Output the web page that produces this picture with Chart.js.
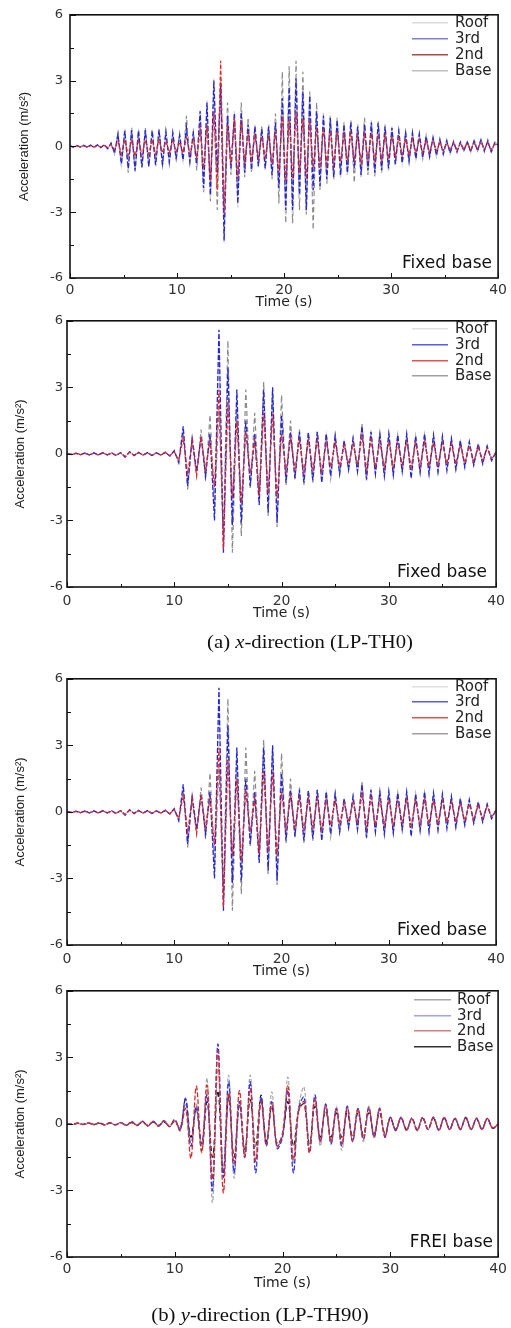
<!DOCTYPE html>
<html><head><meta charset="utf-8">
<script src="https://cdn.jsdelivr.net/npm/chart.js@4.4.0/dist/chart.umd.min.js"></script>
<style>
html,body{margin:0;padding:0;background:#fff;}
body{width:511px;height:1328px;overflow:hidden;position:relative;}
canvas{position:absolute;left:0;}
.cap{position:absolute;font-family:"Liberation Serif","Times New Roman",serif;font-size:18px;color:#111;white-space:nowrap;transform:translate(-50%,-50%) scaleX(1.15);}
</style></head>
<body>
<canvas id="c1" width="511" height="318" style="top:0px"></canvas>
<canvas id="c2" width="511" height="318" style="top:309px"></canvas>
<div class="cap" style="left:310px;top:642px">(a) <i>x</i>-direction (LP-TH0)</div>
<canvas id="c3" width="511" height="318" style="top:667px"></canvas>
<canvas id="c4" width="511" height="318" style="top:979px"></canvas>
<div class="cap" style="left:260px;top:1315px">(b) <i>y</i>-direction (LP-TH90)</div>
<script>
// ---------- DATA ----------
const seriesNames = ['Roof', '3rd', '2nd', 'Base'];
const yTickValues = [-6, -3, 0, 3, 6];
const yMinorValues = [-4.5, -1.5, 1.5, 4.5];
const xTickValues = [0, 10, 20, 30, 40];
const xMinorValues = [5, 15, 25, 35];

// Panel 1 (x-direction, fixed base) — sampled every 0.32 s
const p1Step = 0.32;
const p1Roof = [
 0.02,-0.03,0.03,-0.03,0.05,-0.04,0.05,-0.05,0.06,-0.06,
 0.07,-0.1,0.12,-0.3,0.6,-0.85,0.75,-1.05,0.8,-1.1,
 0.75,-1.0,0.8,-0.95,0.75,-0.9,0.8,-0.85,0.7,-0.75,
 0.65,-0.6,0.55,-0.65,0.9,-0.75,0.65,-0.9,1.7,-2.0,
 2.1,-2.4,3.1,-1.4,3.2,-4.4,1.6,-1.2,1.6,-2.8,
 1.7,-1.3,1.1,-1.1,1.0,-1.0,0.85,-1.1,1.0,-1.4,
 1.2,-2.0,2.4,-3.1,2.9,-3.1,3.3,-2.4,2.6,-3.0,
 2.4,-2.1,1.7,-1.9,1.5,-1.6,1.4,-1.5,1.3,-1.4,
 1.1,-1.3,1.2,-1.1,1.0,-1.4,1.1,-1.2,1.2,-1.3,
 1.1,-1.2,1.0,-1.1,0.9,-0.85,0.75,-0.8,0.65,-0.75,
 0.65,-0.6,0.6,-0.55,0.5,-0.5,0.45,-0.45,0.35,-0.4,
 0.3,-0.35,0.25,-0.3,0.22,-0.22,0.22,-0.28,0.28,-0.22,
 0.32,-0.22,0.28,-0.28,0.18,0.05];
const p1Third = [
 0.02,-0.03,0.04,-0.03,0.05,-0.04,0.06,-0.05,0.07,-0.06,
 0.08,-0.1,0.15,-0.3,0.55,-0.8,0.7,-1.0,0.75,-1.1,
 0.7,-0.95,0.75,-0.9,0.7,-0.85,0.75,-0.8,0.65,-0.7,
 0.6,-0.55,0.5,-0.6,0.85,-0.7,0.6,-0.8,1.6,-1.9,
 2.0,-2.2,3.0,-1.2,2.9,-4.3,1.4,-1.0,1.5,-2.6,
 1.55,-1.2,1.0,-1.06,0.9,-0.9,0.8,-1.0,0.9,-1.3,
 1.1,-1.9,2.2,-2.9,2.7,-2.9,3.1,-2.2,2.5,-2.9,
 2.3,-2.0,1.6,-1.8,1.4,-1.5,1.3,-1.4,1.2,-1.3,
 1.0,-1.2,1.1,-1.0,0.9,-1.3,1.0,-1.1,1.1,-1.2,
 1.05,-1.1,0.9,-1.0,0.85,-0.8,0.7,-0.75,0.6,-0.7,
 0.6,-0.55,0.55,-0.5,0.45,-0.45,0.4,-0.4,0.3,-0.35,
 0.25,-0.3,0.2,-0.25,0.2,-0.2,0.2,-0.25,0.25,-0.2,
 0.3,-0.2,0.25,-0.25,0.15,0.05];
const p1Second = [
 0.01,-0.02,0.02,-0.02,0.03,-0.02,0.03,-0.03,0.04,-0.03,
 0.04,-0.05,0.08,-0.15,0.25,-0.35,0.3,-0.4,0.3,-0.45,
 0.3,-0.4,0.3,-0.35,0.3,-0.35,0.3,-0.3,0.25,-0.3,
 0.25,-0.25,0.2,-0.3,0.4,-0.35,0.3,-0.5,0.8,-1.0,
 1.0,-1.6,1.6,-2.0,3.9,-3.1,1.0,-0.8,1.3,-1.5,
 1.2,-0.7,0.6,-0.6,0.5,-0.5,0.45,-0.5,0.5,-0.8,
 0.7,-1.2,1.4,-1.6,1.2,-1.5,1.6,-1.2,1.3,-1.5,
 1.2,-1.0,0.9,-1.0,0.8,-0.8,0.7,-0.8,0.7,-0.7,
 0.55,-0.65,0.6,-0.6,0.5,-0.7,0.55,-0.6,0.6,-0.65,
 0.55,-0.6,0.5,-0.55,0.45,-0.45,0.4,-0.4,0.35,-0.4,
 0.35,-0.3,0.3,-0.3,0.25,-0.25,0.25,-0.2,0.2,-0.2,
 0.15,-0.15,0.15,-0.15,0.12,-0.12,0.15,-0.15,0.15,-0.12,
 0.2,-0.12,0.15,-0.15,0.1,0.03];
const p1Base = [
 0.02,-0.02,0.03,-0.03,0.04,-0.03,0.05,-0.04,0.06,-0.05,
 0.07,-0.1,0.1,-0.35,0.6,-0.9,0.8,-1.2,0.85,-1.15,
 0.8,-1.0,0.85,-0.95,0.8,-0.9,0.8,-0.9,0.7,-0.8,
 0.65,-0.6,0.6,-0.7,1.4,-0.8,0.7,-1.1,1.2,-2.1,
 1.6,-2.5,2.4,-2.9,3.0,-3.3,2.0,-1.3,1.2,-2.2,
 2.0,-1.4,1.3,-1.2,1.0,-0.8,0.9,-1.0,1.0,-1.5,
 1.5,-2.6,3.4,-3.5,3.65,-3.5,3.9,-2.9,3.4,-3.1,
 2.5,-3.8,2.0,-2.0,1.5,-1.7,1.4,-1.5,1.3,-1.4,
 1.1,-1.3,1.2,-1.66,1.0,-1.4,1.3,-1.3,1.1,-1.4,
 1.2,-1.2,1.0,-1.1,0.9,-0.9,0.8,-0.8,0.7,-0.7,
 0.65,-0.6,0.6,-0.55,0.5,-0.5,0.45,-0.45,0.35,-0.35,
 0.3,-0.3,0.25,-0.25,0.2,-0.2,0.25,-0.25,0.3,-0.2,
 0.35,-0.25,0.3,-0.3,0.2,0.05];

// Panel 2 and 3 (same record, fixed base) — sampled every 40/96 s
const p2Step = 40 / 96;
const p2Roof = [
 0.02,-0.02,0.03,-0.03,0.03,-0.04,0.04,-0.05,0.05,-0.04,0.04,-0.07,
 0.05,-0.13,0.09,-0.07,0.06,-0.05,0.05,-0.06,0.05,-0.05,0.07,-0.09,
 0.13,-0.35,1.1,-1.3,0.65,-0.75,0.75,-0.9,1.0,-2.7,5.0,-4.0,
 4.2,-3.0,2.6,-2.8,1.4,-1.3,0.9,-2.1,2.6,-2.4,2.7,-2.8,
 1.6,-1.2,0.95,-1.0,0.95,-1.2,0.9,-1.1,0.95,-1.2,0.85,-0.95,
 0.75,-0.85,0.55,-0.65,0.65,-0.75,1.1,-1.05,0.95,-0.85,0.85,-0.95,
 0.85,-0.9,0.8,-0.75,0.85,-0.95,0.75,-0.8,0.85,-0.85,0.8,-0.75,
 0.75,-0.7,0.65,-0.65,0.55,-0.55,0.5,-0.45,0.42,-0.42,0.32,-0.28,
 0.08];
const p2Third = [
 0.02,-0.03,0.03,-0.04,0.04,-0.05,0.05,-0.06,0.06,-0.05,0.05,-0.08,
 0.06,-0.15,0.1,-0.08,0.07,-0.06,0.06,-0.07,0.05,-0.06,0.08,-0.1,
 0.15,-0.4,1.24,-1.45,0.7,-0.8,0.8,-1.0,0.9,-3.0,5.6,-4.45,
 3.9,-3.2,2.9,-3.1,1.5,-1.45,0.9,-2.3,2.9,-2.65,3.0,-3.1,
 1.75,-1.3,1.0,-1.1,1.0,-1.3,0.95,-1.2,1.0,-1.3,0.9,-1.0,
 0.8,-0.9,0.6,-0.7,0.7,-0.8,1.24,-1.15,1.0,-0.9,0.9,-1.0,
 0.9,-0.95,0.85,-0.8,0.9,-1.1,0.8,-0.85,0.9,-0.9,0.85,-0.8,
 0.8,-0.75,0.7,-0.7,0.6,-0.6,0.55,-0.5,0.45,-0.45,0.35,-0.3,
 0.1];
const p2Second = [
 0.01,-0.02,0.02,-0.03,0.03,-0.04,0.03,-0.04,0.04,-0.04,0.04,-0.06,
 0.05,-0.12,0.08,-0.06,0.05,-0.05,0.05,-0.06,0.04,-0.05,0.06,-0.08,
 0.1,-0.3,0.7,-0.9,0.6,-1.0,0.8,-0.7,0.6,-1.5,2.9,-4.3,
 2.4,-2.0,1.5,-2.2,1.0,-0.9,0.6,-1.9,1.85,-1.8,1.8,-2.0,
 0.9,-0.8,0.7,-0.7,0.6,-0.8,0.6,-0.7,0.6,-0.8,0.55,-0.6,
 0.5,-0.55,0.4,-0.45,0.45,-0.5,0.8,-0.7,0.65,-0.6,0.55,-0.6,
 0.55,-0.6,0.5,-0.5,0.55,-0.6,0.5,-0.55,0.55,-0.55,0.5,-0.5,
 0.5,-0.45,0.45,-0.45,0.4,-0.4,0.35,-0.35,0.3,-0.3,0.25,-0.2,
 0.05];
const p2Base = [
 0.01,-0.01,0.02,-0.02,0.02,-0.03,0.03,-0.03,0.03,-0.03,0.03,-0.05,
 0.04,-0.1,0.06,-0.05,0.04,-0.04,0.04,-0.05,0.04,-0.05,0.06,-0.08,
 0.12,-0.35,1.0,-1.6,0.8,-0.9,1.1,-1.2,1.76,-2.4,2.0,-3.5,
 5.1,-4.45,2.2,-3.7,2.9,-1.6,1.85,-2.0,3.25,-2.8,2.9,-3.3,
 2.65,-1.4,1.5,-1.2,1.1,-1.4,1.0,-1.3,1.0,-1.2,0.9,-1.1,
 0.85,-0.9,0.6,-0.75,0.7,-0.8,1.4,-1.2,1.0,-0.9,0.95,-0.95,
 0.9,-0.9,0.85,-0.8,0.85,-0.95,0.8,-0.85,0.85,-0.85,0.8,-0.8,
 0.75,-0.7,0.65,-0.65,0.55,-0.55,0.5,-0.5,0.4,-0.4,0.35,-0.3,
 0.1];

// Panel 4 (y-direction, FREI base) — sampled every 0.5 s
const p4Step = 0.5;
const p4Roof = [
 0.02,-0.03,0.04,-0.04,0.05,-0.05,0.06,-0.05,0.06,-0.06,
 0.07,-0.08,0.11,-0.09,0.13,-0.11,0.13,-0.11,0.16,-0.13,
 0.15,-0.3,0.9,-1.0,0.9,-1.0,2.05,-3.55,2.5,-2.0,
 2.2,-2.45,1.0,-1.5,2.2,-1.6,1.2,-1.0,1.45,-1.0,
 -0.5,2.1,-1.8,0.8,1.65,-1.2,1.2,-1.0,0.9,-0.9,
 0.8,-1.2,0.8,-0.8,0.7,-0.8,0.8,-0.65,0.75,-0.6,
 0.32,-0.32,0.3,-0.3,0.28,-0.32,0.3,-0.28,0.32,-0.3,
 0.3,-0.28,0.28,-0.28,0.3,-0.28,0.28,-0.26,0.26,-0.22,
 0.0];
const p4Third = [
 0.02,-0.03,0.04,-0.03,0.05,-0.04,0.05,-0.05,0.06,-0.05,
 0.06,-0.07,0.1,-0.08,0.12,-0.1,0.12,-0.1,0.15,-0.12,
 0.2,-0.3,1.15,-1.0,0.8,-0.9,1.3,-3.0,3.6,-2.4,
 1.9,-2.2,1.0,-1.5,1.9,-2.2,1.2,-1.0,1.0,-1.1,
 -0.6,1.5,-2.2,0.7,1.2,-1.3,1.3,-0.8,0.9,-0.9,
 0.7,-1.0,0.8,-0.8,0.7,-0.7,0.75,-0.6,0.7,-0.6,
 0.3,-0.3,0.3,-0.3,0.25,-0.3,0.3,-0.25,0.3,-0.3,
 0.3,-0.25,0.25,-0.25,0.3,-0.25,0.25,-0.25,0.25,-0.2,
 0.0];
const p4Second = [
 0.01,-0.02,0.03,-0.02,0.04,-0.03,0.04,-0.04,0.05,-0.04,
 0.05,-0.06,0.08,-0.07,0.1,-0.08,0.1,-0.09,0.12,-0.1,
 0.15,-0.25,0.7,-1.55,1.7,-1.3,1.75,-2.5,3.3,-3.1,
 1.4,-1.8,1.5,-1.5,1.6,-1.7,1.0,-0.9,0.9,-1.0,
 -0.4,1.7,-1.6,0.6,1.0,-1.3,1.1,-0.8,0.8,-0.8,
 0.65,-0.9,0.7,-0.75,0.65,-0.65,0.7,-0.55,0.65,-0.55,
 0.28,-0.28,0.28,-0.28,0.25,-0.28,0.28,-0.25,0.28,-0.28,
 0.28,-0.25,0.25,-0.25,0.28,-0.25,0.25,-0.25,0.25,-0.2,
 0.0];
const p4Base = [
 0.01,-0.01,0.02,-0.02,0.02,-0.02,0.03,-0.03,0.03,-0.03,
 0.04,-0.05,0.06,-0.05,0.07,-0.06,0.08,-0.07,0.08,-0.08,
 0.1,-0.2,1.1,-0.6,0.7,-1.2,1.0,-1.5,1.5,-2.2,
 1.2,-1.5,0.9,-1.2,1.1,-1.0,1.3,-0.8,0.8,-0.9,
 -0.5,1.0,-1.0,0.6,0.9,-0.9,0.8,-0.6,0.6,-0.6,
 0.5,-0.6,0.5,-0.55,0.5,-0.5,0.5,-0.45,0.5,-0.45,
 0.25,-0.25,0.25,-0.25,0.22,-0.25,0.25,-0.22,0.25,-0.25,
 0.25,-0.22,0.22,-0.22,0.25,-0.22,0.22,-0.22,0.22,-0.18,
 0.0];

// ---------- DRAWING ----------
function pts(arr, step) { return arr.map((v, i) => ({ x: i * step, y: v })); }

const framePlugin = {
  id: 'frameAndLegend',
  afterDatasetsDraw(chart) {
    const o = chart.options.plugins.frameAndLegend;
    const { ctx, chartArea: a, scales } = chart;
    const x = scales.x, y = scales.y;
    ctx.save();
    ctx.strokeStyle = '#111';
    ctx.lineWidth = 1;
    ctx.beginPath();
    yTickValues.forEach(v => { const p = Math.round(y.getPixelForValue(v)) + 0.5; ctx.moveTo(a.left, p); ctx.lineTo(a.left + 6, p); });
    yMinorValues.forEach(v => { const p = Math.round(y.getPixelForValue(v)) + 0.5; ctx.moveTo(a.left, p); ctx.lineTo(a.left + 4, p); });
    xTickValues.forEach(v => { const p = Math.round(x.getPixelForValue(v)) + 0.5; ctx.moveTo(p, a.bottom); ctx.lineTo(p, a.bottom - 5); });
    xMinorValues.forEach(v => { const p = Math.round(x.getPixelForValue(v)) + 0.5; ctx.moveTo(p, a.bottom); ctx.lineTo(p, a.bottom - 3); });
    ctx.stroke();
    ctx.lineWidth = 1.6;
    ctx.strokeRect(a.left, a.top, a.right - a.left, a.bottom - a.top);
    // legend
    ctx.font = '15px "DejaVu Sans", sans-serif';
    ctx.textBaseline = 'middle';
    ctx.textAlign = 'left';
    seriesNames.forEach((n, i) => {
      const yy = a.top + o.rows[i];
      ctx.strokeStyle = o.legendColors[i];
      ctx.lineWidth = 1.5;
      ctx.beginPath(); ctx.moveTo(o.lx1, yy); ctx.lineTo(o.lx2, yy); ctx.stroke();
      ctx.fillStyle = '#222';
      ctx.fillText(n, o.tx, yy + 0.5);
    });
    // annotation
    ctx.font = '17px "DejaVu Sans", sans-serif';
    ctx.textAlign = 'right';
    ctx.fillStyle = '#111';
    ctx.fillText(o.label, o.labelRight, a.bottom - 14.5);
    ctx.restore();
  }
};

function makePanel(id, p) {
  const ds = p.series.map((arr, i) => ({
    label: seriesNames[i],
    data: pts(arr, p.step),
    borderColor: p.colors[i],
    borderWidth: p.widths[i],
    borderDash: p.dashes[i],
    pointRadius: 0,
    tension: p.tension,
    fill: false,
    order: p.orders[i]
  }));
  new Chart(document.getElementById(id), {
    type: 'line',
    data: { datasets: ds },
    plugins: [framePlugin],
    options: {
      responsive: false, animation: false, devicePixelRatio: 1,
      layout: { padding: { top: 11, right: p.padRight, left: 0, bottom: 0 } },
      plugins: {
        legend: { display: false }, tooltip: { enabled: false },
        frameAndLegend: p.deco
      },
      scales: {
        x: {
          type: 'linear', min: 0, max: 40,
          afterBuildTicks: s => { s.ticks = xTickValues.map(v => ({ value: v })); },
          ticks: { font: { family: 'DejaVu Sans', size: 14 }, color: '#333', padding: p.xTickPad, maxRotation: 0, autoSkip: false },
          grid: { display: false, drawTicks: false }, border: { display: false },
          title: { display: true, text: 'Time (s)', font: { family: 'DejaVu Sans', size: 14 }, color: '#222', padding: { top: 0, bottom: p.xTitlePad } },
          afterFit: s => { s.height = 40; }
        },
        y: {
          type: 'linear', min: -6, max: 6,
          afterBuildTicks: s => { s.ticks = yTickValues.map(v => ({ value: v })); },
          ticks: { font: { family: 'DejaVu Sans', size: 13 }, color: '#333', padding: p.yTickPad },
          grid: { display: false, drawTicks: false }, border: { display: false },
          title: { display: true, text: 'Acceleration (m/s²)', font: { family: 'Liberation Sans', size: 13 }, color: '#222', padding: { top: p.yTitlePad, bottom: 0 } },
          afterFit: s => { s.width = p.yWidth; }
        }
      }
    }
  });
}

const fixedColors = ['#cfcfcf', '#2626d6', '#e02828', '#8a8a8a'];
const fixedWidths = [1.2, 1.3, 1.2, 1.2];
const fixedDashes = [[3, 2], [5, 2], [4, 2], [5, 3]];
const orders = [3, 2, 1, 4];

makePanel('c1', {
  series: [p1Roof, p1Third, p1Second, p1Base], step: p1Step,
  colors: fixedColors, widths: fixedWidths, dashes: fixedDashes, orders, tension: 0,
  padRight: 10, yWidth: 70, yTickPad: 7, yTitlePad: 16.5, xTitlePad: 7, xTickPad: 4,
  deco: { rows: [8, 24, 40, 56], lx1: 412, lx2: 448, tx: 455, legendColors: ['#dcdcdc', '#7c7ce0', '#b04a4a', '#c0c0c0'], label: 'Fixed base', labelRight: 492 }
});
makePanel('c2', {
  series: [p2Roof, p2Third, p2Second, p2Base], step: p2Step,
  colors: fixedColors, widths: fixedWidths, dashes: fixedDashes, orders, tension: 0,
  padRight: 12, yWidth: 67, yTickPad: 4, yTitlePad: 13, xTitlePad: 5, xTickPad: 6,
  deco: { rows: [8, 24, 40, 55], lx1: 412, lx2: 448, tx: 455, legendColors: ['#e0e0e0', '#5a5aee', '#e85050', '#a0a0a0'], label: 'Fixed base', labelRight: 487 }
});
makePanel('c3', {
  series: [p2Roof, p2Third, p2Second, p2Base], step: p2Step,
  colors: fixedColors, widths: fixedWidths, dashes: fixedDashes, orders, tension: 0,
  padRight: 12, yWidth: 67, yTickPad: 4, yTitlePad: 13, xTitlePad: 5, xTickPad: 6,
  deco: { rows: [8, 23, 39, 55], lx1: 412, lx2: 448, tx: 455, legendColors: ['#e0e0e0', '#5a5aee', '#e85050', '#a0a0a0'], label: 'Fixed base', labelRight: 487 }
});
makePanel('c4', {
  series: [p4Roof, p4Third, p4Second, p4Base], step: p4Step,
  colors: ['#a8a8a8', '#3434e0', '#d82c2c', '#1a1a1a'], widths: [1.2, 1.3, 1.3, 1.2],
  dashes: [[4, 2], [5, 2], [5, 2], [5, 3]], orders, tension: 0.35,
  padRight: 12, yWidth: 67, yTickPad: 4, yTitlePad: 13, xTitlePad: 5, xTickPad: 4,
  deco: { rows: [9, 25, 40, 56], lx1: 414, lx2: 451, tx: 457, legendColors: ['#a8a8a8', '#a0a0ff', '#d08080', '#333333'], label: 'FREI base', labelRight: 493 }
});
</script>
</body></html>
